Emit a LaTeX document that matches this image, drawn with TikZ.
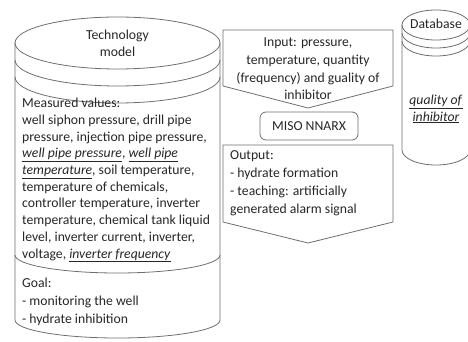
\documentclass[tikz,border=0pt]{standalone}
\usepackage{fontspec}
\setmainfont{Carlito}
\definecolor{edge}{HTML}{6E6E6E}
\definecolor{ink}{HTML}{262626}
\tikzset{
  shape line/.style={draw=edge,line width=.8pt},
  txt/.style={text=ink,inner sep=0pt,font=\fontsize{13.7}{16.7}\selectfont},
}
\newcommand{\uit}[1]{\underline{\textit{#1}}}

\begin{document}
\begin{tikzpicture}[x=1pt,y=-1pt,line join=round]
\useasboundingbox (0,0) rectangle (468,342);
% technology model cylinder
\draw[shape line](15,43)--(15,320) arc[start angle=180,end angle=0,x radius=102.5,y radius=18]--(220,43);
\draw[shape line](117.5,43) ellipse[x radius=102.5,y radius=26];
\draw[shape line](15,60) arc[start angle=180,end angle=0,x radius=102.5,y radius=26];
\draw[shape line](15,77) arc[start angle=180,end angle=0,x radius=102.5,y radius=26];
\draw[shape line](15,255) arc[start angle=180,end angle=0,x radius=102.5,y radius=18];
\node[txt,align=center] (tech) at (117.5,43) {Technology\\model};
\node[txt,align=left,anchor=north west] (meas) at (22,98) {Measured values:\\
well siphon pressure, drill pipe\\
pressure, injection pipe pressure,\\
\uit{well pipe pressure}, \uit{well pipe}\\
\uit{temperature}, soil temperature,\\
temperature of chemicals,\\
controller temperature, inverter\\
temperature, chemical tank liquid\\
level, inverter current, inverter,\\
voltage, \uit{inverter frequency}};
\node[txt,align=left,anchor=north west,font=\fontsize{13.7}{18}\selectfont] (goal) at (22,278) {Goal:\\- monitoring the well\\- hydrate inhibition};
% neural model
\draw[shape line](223,30)--(393,30)--(393,86)--(308,108)--(223,86)--cycle;
\node[txt,align=center,font=\fontsize{13.7}{17.7}\selectfont] (input) at (308,69) {Input: pressure,\\temperature, quantity\\(frequency) and guality of\\inhibitor};
\node[shape line,txt,rounded corners=6pt,minimum width=98pt,minimum height=28pt] (miso) at (309,126) {MISO NNARX};
\draw[shape line](223,145)--(393,145)--(393,222)--(308,243)--(223,222)--cycle;
\node[txt,align=left,anchor=west,font=\fontsize{13.7}{18}\selectfont] (output) at (230,183) {Output:\\- hydrate formation\\- teaching: artificially\\generated alarm signal};
% database cylinder
\draw[shape line](402,25)--(402,150) arc[start angle=180,end angle=0,x radius=34,y radius=15]--(470,25);
\draw[shape line](436,25) ellipse[x radius=34,y radius=15];
\draw[shape line](402,33) arc[start angle=180,end angle=0,x radius=34,y radius=15];
\draw[shape line](402,41) arc[start angle=180,end angle=0,x radius=34,y radius=15];
\node[txt] (db) at (436,24) {Database};
\node[txt,align=center] (qual) at (436,109) {\uit{quality of}\\\uit{inhibitor}};
\end{tikzpicture}
\end{document}
